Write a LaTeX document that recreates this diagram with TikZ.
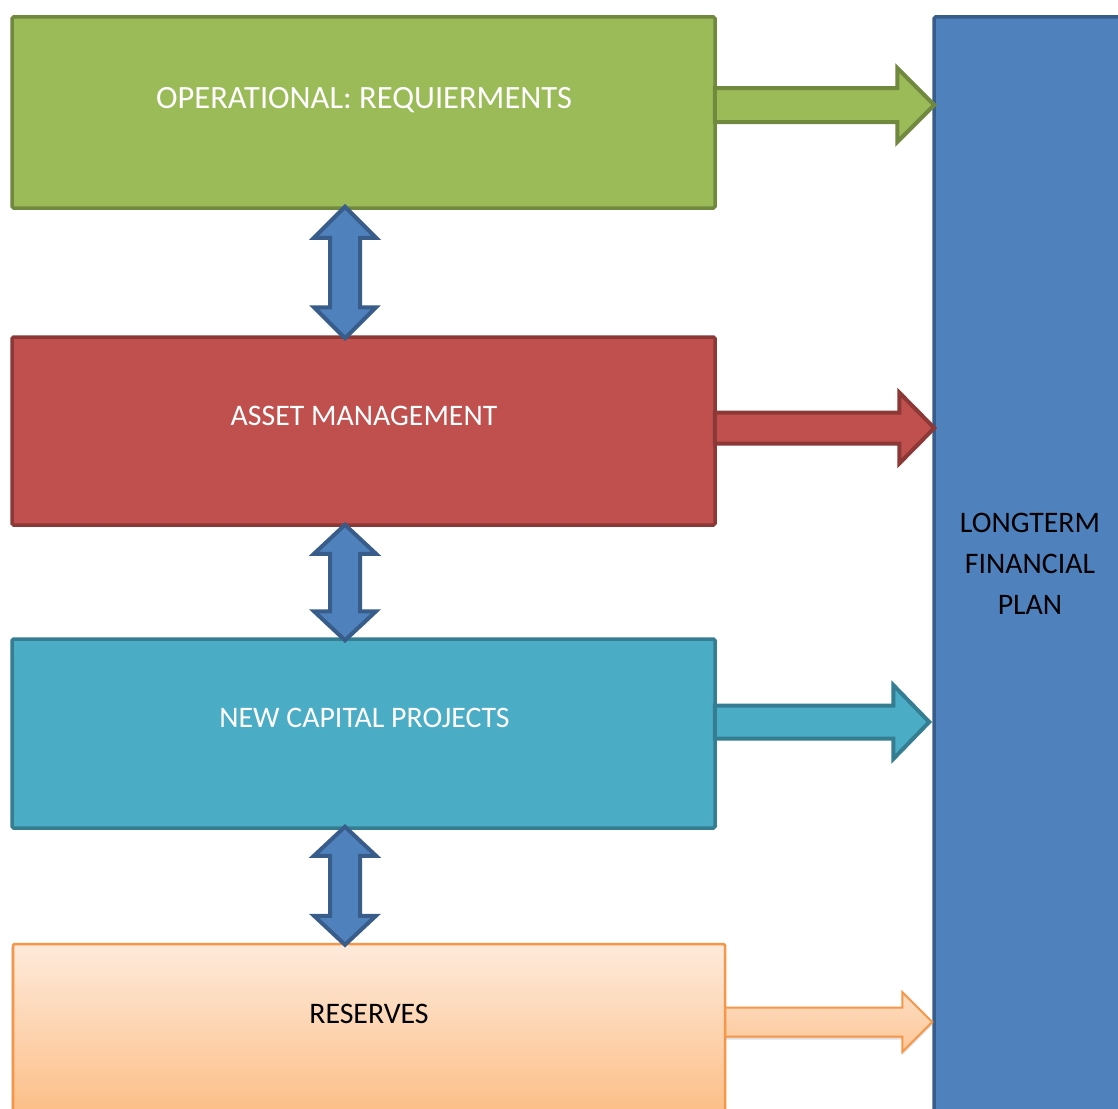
\documentclass[tikz,border=0pt]{standalone}
\usepackage{fontspec}
\setmainfont{Carlito}
\usetikzlibrary{calc,shadows}
\definecolor{gF}{HTML}{9BBB59}\definecolor{gD}{HTML}{71893F}
\definecolor{rF}{HTML}{C0504D}\definecolor{rD}{HTML}{8C3836}
\definecolor{tF}{HTML}{4BACC6}\definecolor{tD}{HTML}{357D91}
\definecolor{bF}{HTML}{4F81BD}\definecolor{bD}{HTML}{385D8A}
\definecolor{oD}{HTML}{F79646}\definecolor{oT}{HTML}{FEEADB}\definecolor{oB}{HTML}{FCBE86}
% horizontal block arrow: style, start, tip, half shaft, half head, head length
\newcommand\rightblock[6]{%
  \path[#1] let \p1=#2, \p2=#3 in
    (\x1,\y1+#4) -- (\x2-#6,\y1+#4) -- (\x2-#6,\y1+#5) -- (\x2,\y1)
    -- (\x2-#6,\y1-#5) -- (\x2-#6,\y1-#4) -- (\x1,\y1-#4) -- cycle;}
% vertical double block arrow: style, top tip, bottom tip, half shaft, half head, head length
\newcommand\updownblock[6]{%
  \path[#1] let \p1=#2, \p2=#3 in
    (\x1,\y1) -- (\x1+#5,\y1-#6) -- (\x1+#4,\y1-#6) -- (\x1+#4,\y2+#6)
    -- (\x1+#5,\y2+#6) -- (\x1,\y2) -- (\x1-#5,\y2+#6) -- (\x1-#4,\y2+#6)
    -- (\x1-#4,\y1-#6) -- (\x1-#5,\y1-#6) -- cycle;}
\begin{document}
\begin{tikzpicture}[x=1pt,y=-1pt,
  box/.style={draw, line width=3.5pt, rounded corners=1.5pt, inner sep=0pt},
  txt/.style={font=\fontsize{29.8}{41}\selectfont, anchor=base, inner sep=0pt},
  darr/.style={draw=bD, fill=bF, line width=4pt, line join=miter},
  harr/.style={line width=4pt, line join=miter}]
\useasboundingbox (0,0) rectangle (1118,1108);
\clip (0,0) rectangle (1118,1108);

% long bar
\node[box, draw=bD, fill=bF, minimum width=196pt, minimum height=1113pt] (bar) at (1032,573.5) {};
\node[txt, anchor=center, align=center] (bart) at (1030,564) {LONGTERM\\FINANCIAL\\PLAN};

% boxes
\node[box, draw=gD, fill=gF, minimum width=703pt, minimum height=191pt] (g) at (363.5,112.5) {};
\node[box, draw=rD, fill=rF, minimum width=703pt, minimum height=188pt] (r) at (363.5,431) {};
\node[box, draw=tD, fill=tF, minimum width=703pt, minimum height=189pt] (t) at (363.5,733.5) {};
\node[box, draw=oD, line width=2.5pt, top color=oT, bottom color=oB,
      drop shadow={opacity=0.25, shadow xshift=-2pt, shadow yshift=-2pt},
      minimum width=712pt, minimum height=172pt] (o) at (369,1030) {};

\node[txt, text=white, font=\fontsize{32.5}{41}\selectfont] (gt) at (364,108.5) {OPERATIONAL: REQUIERMENTS};
\node[txt, text=white] (rt) at (364,425.5) {ASSET MANAGEMENT};
\node[txt, text=white] (tt) at (364.5,727.5) {NEW CAPITAL PROJECTS};
\node[txt, text=black] (ot) at (369,1023.5) {RESERVES};

% arrow anchor points
\coordinate (gs) at ($(g.east)+(-2,-7.5)$);
\coordinate (rs) at ($(r.east)+(-2,-3)$);
\coordinate (ts) at ($(t.east)+(-2,-11.5)$);
\coordinate (os) at ($(o.east)+(-1,-8)$);
\coordinate (ge) at ($(bar.west |- gs)+(2,0)$);
\coordinate (re) at ($(bar.west |- rs)+(2,0)$);
\coordinate (te) at ($(bar.west |- ts)+(-3,0)$);
\coordinate (oe) at ($(bar.west |- os)+(0,0)$);

\rightblock{harr, draw=gD, fill=gF}{(gs)}{(ge)}{17pt}{37pt}{37pt}
\rightblock{harr, draw=rD, fill=rF}{(rs)}{(re)}{15.5pt}{35.5pt}{35pt}
\rightblock{harr, draw=tD, fill=tF}{(ts)}{(te)}{16.5pt}{37pt}{36pt}
\rightblock{line width=2pt, line join=miter, draw=oD, top color=oT!70!oB, bottom color=oB!80!oT,
  drop shadow={opacity=0.25, shadow xshift=0pt, shadow yshift=-3pt}}{(os)}{(oe)}{14.5pt}{30pt}{30pt}

% double arrows
\coordinate (d1t) at ($(g.south)+(-18.5,-3)$);
\coordinate (d1b) at ($(r.north)+(-18.5,3)$);
\coordinate (d2t) at ($(r.south)+(-18.5,-2)$);
\coordinate (d2b) at ($(t.north)+(-18.5,3)$);
\coordinate (d3t) at ($(t.south)+(-18.5,-3)$);
\coordinate (d3b) at ($(o.north)+(-24,2)$);
\updownblock{darr}{(d1t)}{(d1b)}{15pt}{31pt}{31pt}
\updownblock{darr}{(d2t)}{(d2b)}{15pt}{31pt}{29pt}
\updownblock{darr}{(d3t)}{(d3b)}{15pt}{31pt}{29pt}
\end{tikzpicture}
\end{document}
